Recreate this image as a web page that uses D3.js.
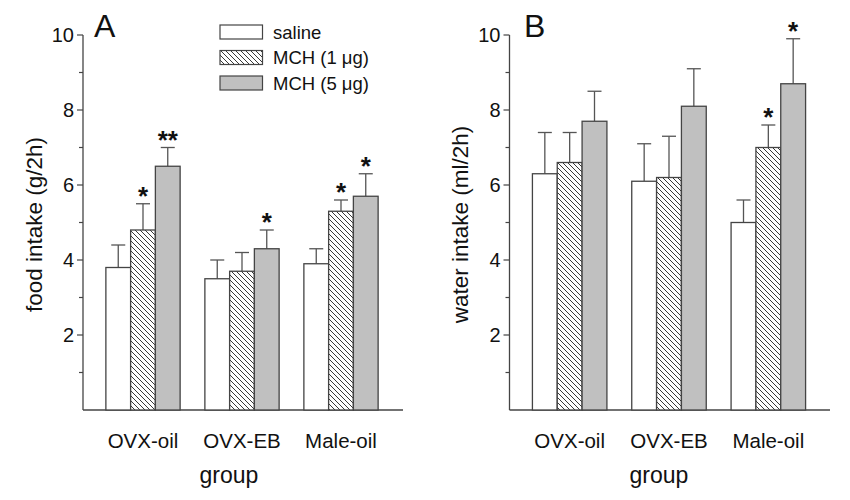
<!DOCTYPE html>
<html><head><meta charset="utf-8">
<script src="https://cdn.jsdelivr.net/npm/d3@7"></script>
<style>body{margin:0;background:#fff}svg{display:block}text{font-family:Arial,"Liberation Sans",sans-serif;fill:#111}</style>
</head><body><svg id="c" width="850" height="500"></svg>
<script>
const groups = ["OVX-oil", "OVX-EB", "Male-oil"];
const series = ["saline", "MCH (1 μg)", "MCH (5 μg)"];
const foodMean = [[3.8, 4.8, 6.5], [3.5, 3.7, 4.3], [3.9, 5.3, 5.7]];
const foodErr  = [[0.6, 0.7, 0.5], [0.5, 0.5, 0.5], [0.4, 0.3, 0.6]];
const foodSig  = [["", "*", "**"], ["", "", "*"], ["", "*", "*"]];
const waterMean = [[6.3, 6.6, 7.7], [6.1, 6.2, 8.1], [5.0, 7.0, 8.7]];
const waterErr  = [[1.1, 0.8, 0.8], [1.0, 1.1, 1.0], [0.6, 0.6, 1.2]];
const waterSig  = [["", "", ""], ["", "", ""], ["", "*", "*"]];
const yTicks = [2, 4, 6, 8, 10];
const yMinor = [1, 3, 5, 7, 9];

const svg = d3.select("#c");
const defs = svg.append("defs");
const pat = defs.append("pattern").attr("id", "hatch").attr("patternUnits", "userSpaceOnUse")
  .attr("width", 5).attr("height", 5);
pat.append("rect").attr("width", 5).attr("height", 5).attr("fill", "#fff");
pat.append("path").attr("d", "M-1,-1 L6,6 M-6,-1 L1,6 M4,-1 L11,6").attr("stroke", "#222").attr("stroke-width", 0.9);
const fills = ["#fff", "url(#hatch)", "#c0c0c0"];
const stroke = "#444";

function panel(opt) {
  const g = svg.append("g");
  const y = d3.scaleLinear().domain([0, 10]).range([410, 35]);
  const x = d3.scaleBand().domain(groups).range([opt.gx0, opt.gx1]).paddingInner(0.25).paddingOuter(0.125);
  const xs = d3.scaleBand().domain(series).range([0, x.bandwidth()]);
  g.append("line").attr("x1", opt.ax).attr("x2", opt.ax).attr("y1", y(10)).attr("y2", y(0)).attr("stroke", stroke).attr("stroke-width", 1.3);
  g.append("line").attr("x1", opt.ax).attr("x2", opt.axEnd).attr("y1", y(0)).attr("y2", y(0)).attr("stroke", stroke).attr("stroke-width", 1.3);
  yTicks.forEach(t => {
    g.append("line").attr("x1", opt.ax - 6).attr("x2", opt.ax).attr("y1", y(t)).attr("y2", y(t)).attr("stroke", stroke).attr("stroke-width", 1.2);
    g.append("text").attr("x", opt.ax - 9).attr("y", y(t) + 7).attr("text-anchor", "end").attr("font-size", 20).text(t);
  });
  yMinor.forEach(t => {
    g.append("line").attr("x1", opt.ax - 4).attr("x2", opt.ax).attr("y1", y(t)).attr("y2", y(t)).attr("stroke", stroke).attr("stroke-width", 1.2);
  });
  groups.forEach((gr, i) => {
    series.forEach((s, j) => {
      const bx = x(gr) + xs(s), bw = xs.bandwidth();
      const v = opt.mean[i][j], e = opt.err[i][j];
      const cx = bx + bw / 2;
      g.append("line").attr("x1", cx).attr("x2", cx).attr("y1", y(v)).attr("y2", y(v + e)).attr("stroke", "#555").attr("stroke-width", 1.3);
      g.append("line").attr("x1", cx - 7).attr("x2", cx + 7).attr("y1", y(v + e)).attr("y2", y(v + e)).attr("stroke", "#555").attr("stroke-width", 1.3);
      g.append("rect").attr("x", bx).attr("y", y(v)).attr("width", bw).attr("height", y(0) - y(v))
        .attr("fill", fills[j]).attr("stroke", stroke).attr("stroke-width", 1.3);
      const sg = opt.sig[i][j];
      if (sg) g.append("text").attr("x", cx).attr("y", y(v + e) + 1).attr("text-anchor", "middle")
        .attr("font-size", 26).attr("font-weight", "bold").text(sg);
    });
    g.append("text").attr("x", x(gr) + x.bandwidth() / 2).attr("y", 448).attr("text-anchor", "middle").attr("font-size", 20.5).text(gr);
  });
  g.append("text").attr("x", opt.gxl).attr("y", 483).attr("text-anchor", "middle").attr("font-size", 23).text("group");
  g.append("text").attr("transform", `translate(${opt.ylx},${(y(0) + y(10)) / 2 + 2}) rotate(-90)`).attr("text-anchor", "middle").attr("font-size", 22.5).text(opt.ylabel);
  g.append("text").attr("x", opt.lx).attr("y", 37).attr("font-size", 32).text(opt.letter);
  return {x, y};
}

panel({gx0: 93.5, gx1: 390.5, ax: 83, axEnd: 403, mean: foodMean, err: foodErr, sig: foodSig, ylabel: "food intake (g/2h)", ylx: 42, letter: "A", lx: 94, gxl: 229});
panel({gx0: 520, gx1: 818, ax: 509.5, axEnd: 830, mean: waterMean, err: waterErr, sig: waterSig, ylabel: "water intake (ml/2h)", ylx: 468, letter: "B", lx: 524, gxl: 659});

const leg = svg.append("g");
series.forEach((s, j) => {
  const ly = 25 + j * 25.5;
  leg.append("rect").attr("x", 220).attr("y", ly).attr("width", 42.5).attr("height", 14).attr("fill", fills[j]).attr("stroke", stroke).attr("stroke-width", 1.2);
  leg.append("text").attr("x", 273).attr("y", ly + 13.5).attr("font-size", 18.5).text(s);
});
</script></body></html>
